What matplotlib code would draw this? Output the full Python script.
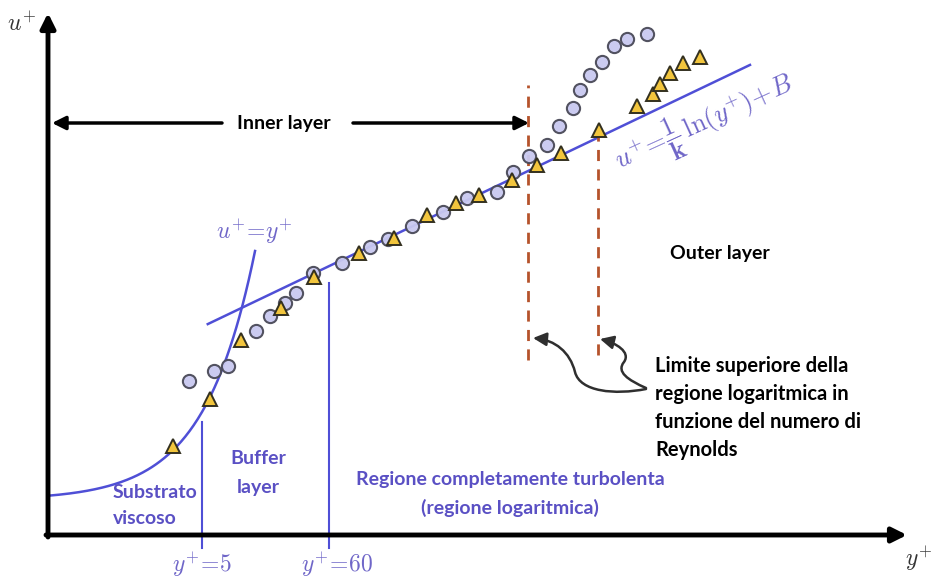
import numpy as np
import matplotlib
matplotlib.use('Agg')
import matplotlib.pyplot as plt
from matplotlib.path import Path
from matplotlib.patches import FancyArrowPatch

plt.rcParams['mathtext.fontset'] = 'cm'

# ---- data: y+ (log axis) and u+ ----
circle_yplus = [3.88, 6.33, 8.33, 14.4, 19.0, 25.5, 31.6, 44.1, 77.9, 135,
                192, 307, 564, 903, 1627, 2226, 3049, 4339, 5489, 7219,
                8286, 10080, 12750, 16130, 20810, 30800]
circle_uplus = [6.76, 7.33, 7.61, 9.60, 10.45, 11.19, 11.76, 12.90, 13.47, 14.38,
                14.83, 15.57, 16.36, 17.16, 17.50, 18.64, 19.55, 20.17, 21.25, 22.27,
                23.30, 24.15, 24.89, 25.80, 26.19, 26.48]

triangle_yplus = [2.83, 5.85, 10.75, 23.55, 45.0, 108.6, 216, 412, 728, 1142,
                  2183, 3562, 5704, 12020, 25300, 34660, 39750, 48370, 62410, 87100]
triangle_uplus = [3.07, 5.74, 9.09, 10.91, 12.67, 14.03, 14.89, 16.19, 16.88, 17.33,
                  18.18, 19.03, 19.72, 21.02, 22.39, 23.07, 23.64, 24.26, 24.83, 25.17]

# log law u+ = (1/k) ln(y+) + B
KAPPA_INV = 1.385
B_CONST = 7.61
log_law_yplus = [5.6, 232000]
# viscous sublayer u+ = y+
viscous_yplus = [0.244, 14.15]
# region limits
sublayer_limits = [5, 60]
sublayer_tops = [4.43, 12.33]
limit_bottom = -2.73
reynolds_limits = [3000, 11800]
reynolds_tops = [23.6, 21.1]
reynolds_bottoms = [7.95, 8.24]

LINE = '#4f4fd6'
TXT = '#5a50c4'
MATH = '#6f66c8'
FONT = 'Lato'

fig = plt.figure(figsize=(9.32, 5.78), dpi=100)
ax = fig.add_axes([0, 0, 1, 1])
ax.set_xscale('log')
ax.set_xlim(0.0953, 8.23e6)
ax.set_ylim(-4.43, 28.41)
ax.axis('off')

# viscous law
yv = np.geomspace(viscous_yplus[0], viscous_yplus[1], 200)
ax.plot(yv, yv, color=LINE, lw=1.8, zorder=2)
# log law
yl = np.geomspace(log_law_yplus[0], log_law_yplus[1], 50)
ax.plot(yl, KAPPA_INV * np.log(yl) + B_CONST, color=LINE, lw=1.8, zorder=2)
# sublayer limits
for xv, top in zip(sublayer_limits, sublayer_tops):
    ax.plot([xv, xv], [limit_bottom, top], color=LINE, lw=1.5, zorder=2)
# Reynolds dependent limits
for xv, top, bot in zip(reynolds_limits, reynolds_tops, reynolds_bottoms):
    ax.plot([xv, xv], [bot, top], color='#b5532b', lw=2, ls=(0, (4, 3)), zorder=2)

ax.plot(circle_yplus, circle_uplus, 'o', ms=9.5, mfc='#c9c9f0', mec='#4a4a58',
        mew=1.5, zorder=3, alpha=0.95)
ax.plot(triangle_yplus, triangle_uplus, '^', ms=10, mfc='#f2c53d', mec='#33301f',
        mew=1.4, zorder=4)

# ---- overlay for annotations (pixel frame) ----
ov = fig.add_axes([0, 0, 1, 1])
ov.set_xlim(0, 932)
ov.set_ylim(578, 0)
ov.axis('off')
ov.patch.set_alpha(0)

arr = dict(arrowstyle='-|>', color='black', lw=3.5, mutation_scale=22, shrinkA=0, shrinkB=0)
ov.annotate('', xy=(48, 13), xytext=(48, 537), arrowprops=arr)
ov.annotate('', xy=(907, 535), xytext=(46, 535), arrowprops=arr)
ov.text(22, 24, r'$u^{+}$', fontsize=17, color='#333333', ha='center', va='center')
ov.text(919, 559, r'$y^{+}$', fontsize=17, color='#333333', ha='center', va='center')

inner = dict(arrowstyle='-|>', color='black', lw=2.5, mutation_scale=20, shrinkA=0, shrinkB=0)
ov.annotate('', xy=(52, 123), xytext=(222, 123), arrowprops=inner)
ov.annotate('', xy=(529, 123), xytext=(353, 123), arrowprops=inner)
ov.text(284, 123, 'Inner layer', fontsize=14, fontweight='bold', family=FONT,
        ha='center', va='center', color='black')
ov.text(720, 253, 'Outer layer', fontsize=14, fontweight='bold', family=FONT,
        ha='center', va='center', color='black')

lines_lim = ['Limite superiore della', 'regione logaritmica in',
             'funzione del numero di', 'Reynolds']
for i, s in enumerate(lines_lim):
    ov.text(655, 366 + 28 * i, s, fontsize=14.5, fontweight='bold', family=FONT,
            ha='left', va='center', color='black')

for i, s in enumerate(['Substrato', 'viscoso']):
    ov.text(113, 492 + 26 * i, s, fontsize=14, fontweight='bold', family=FONT,
            ha='left', va='center', color=TXT)
for i, s in enumerate(['Buffer', 'layer']):
    ov.text(258, 459 + 28 * i, s, fontsize=14, fontweight='bold', family=FONT,
            ha='center', va='center', color=TXT)
for i, s in enumerate(['Regione completamente turbolenta', '(regione logaritmica)']):
    ov.text(510, 480 + 28 * i, s, fontsize=14, fontweight='bold', family=FONT,
            ha='center', va='center', color=TXT)

ov.text(254, 232, r'$u^{+}\!=\!y^{+}$', fontsize=17, color=MATH, ha='center', va='center')
ov.text(202, 565, r'$y^{+}\!=\!5$', fontsize=17, color=MATH, ha='center', va='center')
ov.text(337, 565, r'$y^{+}\!=\!60$', fontsize=17, color=MATH, ha='center', va='center')
ov.text(705, 124, r'$u^{+}\!=\!\dfrac{\mathbf{1}}{\mathbf{k}}\,\ln(y^{+})\!+\!B$', fontsize=19,
        color=MATH, ha='center', va='center', rotation=24.5, rotation_mode='anchor')

# curved arrows
p1 = Path([(646, 389), (615, 395), (580, 392), (575, 372),
           (570, 352), (555, 340), (533, 338)],
          [Path.MOVETO, Path.CURVE4, Path.CURVE4, Path.CURVE4,
           Path.CURVE4, Path.CURVE4, Path.CURVE4])
p2 = Path([(646, 388), (628, 380), (616, 372), (624, 362),
           (631, 352), (616, 343), (600, 339)],
          [Path.MOVETO, Path.CURVE4, Path.CURVE4, Path.CURVE4,
           Path.CURVE4, Path.CURVE4, Path.CURVE4])
for p in (p1, p2):
    ov.add_patch(FancyArrowPatch(path=p, arrowstyle='-|>', color='#2f2f2f', lw=1.8,
                                 mutation_scale=20))

fig.savefig('out.png', dpi=100)
